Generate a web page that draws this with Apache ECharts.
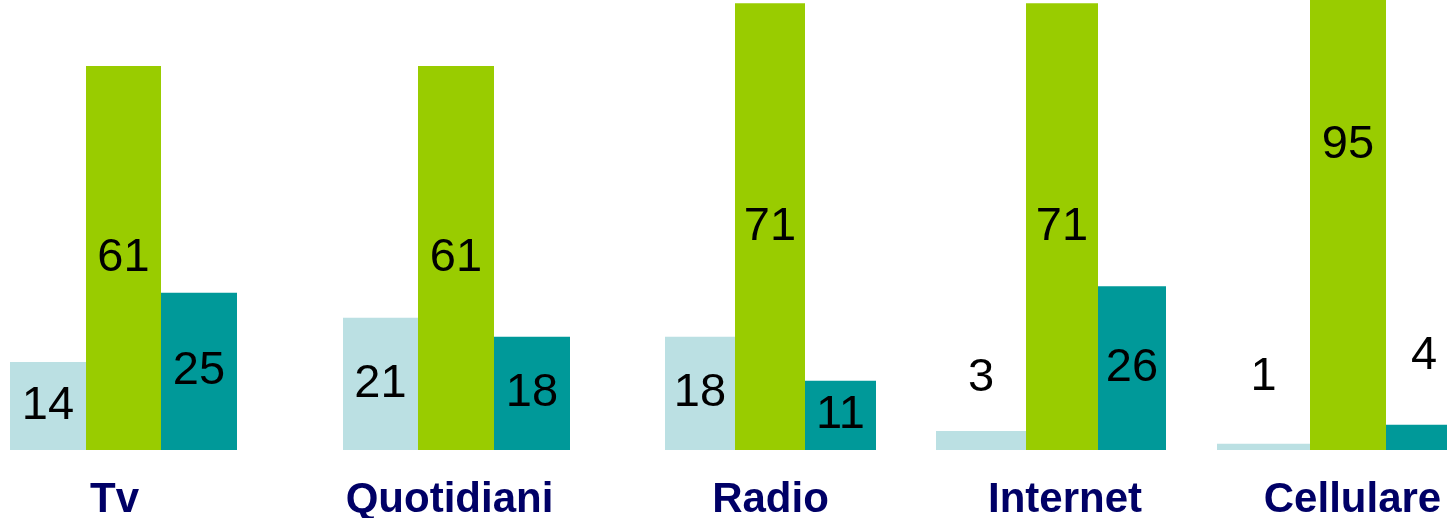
<!DOCTYPE html>
<html>
<head>
<meta charset="utf-8">
<script src="https://cdn.jsdelivr.net/npm/echarts@6/dist/echarts.min.js"></script>
<style>
html,body{margin:0;padding:0;background:#fff;}
#c{width:1447px;height:518px;}
</style>
</head>
<body>
<div id="c"></div>
<script>
const categories = ['Tv', 'Quotidiani', 'Radio', 'Internet', 'Cellulare'];
const seriesA = [14, 21, 18, 3, 1];
const seriesB = [61, 61, 71, 71, 95];
const seriesC = [25, 18, 11, 26, 4];

// layout (style only): left edge of each group, bar widths, label shift
const groupLeft = [10, 343, 665, 936, 1217];
const barWidths = [[76, 75, 76], [75, 76, 76], [70, 70, 71], [90, 72, 68], [93, 76, 76]];
const labelShift = [-9, -7, 0, 14, 13];
const colors = ['#BBE0E3', '#99CC00', '#009999'];

// per-item label placement overrides (style only)
const labelOverrides = [
  [null, null, null, {position: 'top', distance: 30}, {position: 'top', distance: 43}],
  [null, null, null, null, {position: ['50%', 145], align: 'center', verticalAlign: 'middle'}],
  [null, null, null, null, {position: 'top', distance: 45}]
];

const allSeries = [seriesA, seriesB, seriesC];
const font = 'Liberation Sans, Arial, sans-serif';

const grids = [], xAxes = [], yAxes = [], series = [];
categories.forEach((cat, i) => {
  const w = barWidths[i].reduce((a, b) => a + b, 0);
  grids.push({left: groupLeft[i], width: w, top: 0, bottom: 68, containLabel: false, outerBoundsMode: 'none'});
  const s = labelShift[i];
  xAxes.push({
    type: 'category', gridIndex: i, data: [cat],
    axisLine: {show: false}, axisTick: {show: false},
    axisLabel: {
      margin: 29, color: '#000066', fontSize: 42, fontWeight: 'bold', fontFamily: font,
      padding: [0, s < 0 ? -2 * s : 0, 0, s > 0 ? 2 * s : 0]
    }
  });
  yAxes.push({type: 'value', gridIndex: i, min: 0, max: 71.5, show: false, splitLine: {show: false}});
  allSeries.forEach((vals, k) => {
    const ov = labelOverrides[k][i];
    series.push({
      type: 'bar', xAxisIndex: i, yAxisIndex: i,
      data: [ov ? {value: vals[i], label: ov} : vals[i]],
      barWidth: barWidths[i][k], barGap: '0%', clip: true,
      itemStyle: {color: colors[k]},
      label: {show: true, position: 'inside', color: '#000000', fontSize: 47, fontFamily: font}
    });
  });
});

const chart = echarts.init(document.getElementById('c'), null, {renderer: 'canvas'});
chart.setOption({
  animation: false,
  backgroundColor: '#ffffff',
  grid: grids, xAxis: xAxes, yAxis: yAxes, series: series
});
</script>
</body>
</html>
